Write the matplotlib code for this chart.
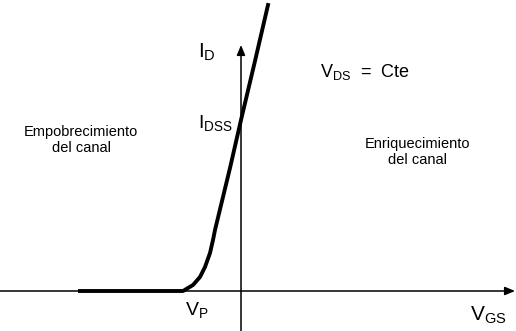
import matplotlib
matplotlib.use("Agg")
from matplotlib import pyplot as plt

plt.rcParams['font.family'] = ['Liberation Sans', 'DejaVu Sans']
plt.rcParams['mathtext.fontset'] = 'custom'
plt.rcParams['mathtext.rm'] = 'Liberation Sans'
plt.rcParams['mathtext.it'] = 'Liberation Sans'

# curva de transferencia I_D(V_GS)
vgs = [-161, -58, -48, -41, -36, -31, -28, -26, -11, 0, 14, 27]
i_d = [0, 0, 6, 14, 24, 38, 51, 61, 123, 171, 230, 286]

fig = plt.figure(figsize=(5.16, 3.31), dpi=100)
ax = fig.add_axes([0, 0, 1, 1])
ax.set_xlim(-241, 275)
ax.set_ylim(-40, 291)
ax.axis('off')

flecha = dict(arrowstyle='-|>,head_length=0.6,head_width=0.25', color='black',
              lw=1.1, shrinkA=0, shrinkB=0)
ax.annotate('', xy=(274, 0), xytext=(-241, 0), arrowprops=flecha)
ax.annotate('', xy=(0, 246), xytext=(0, -40), arrowprops=flecha)

ax.plot(vgs, i_d, color='black', lw=2.8, solid_joinstyle='round')

ax.text(-34, 239, r'$\mathrm{I_D}$', fontsize=15, ha='center', va='center')
ax.text(-26, 168, r'$\mathrm{I_{DSS}}$', fontsize=14, ha='center', va='center')
ax.text(-44, -19, r'$\mathrm{V_P}$', fontsize=14, ha='center', va='center')
ax.text(247, -24, r'$\mathrm{V_{GS}}$', fontsize=15, ha='center', va='center')
ax.text(124, 219, r'$\mathrm{V_{DS}}$  =  Cte', fontsize=13, ha='center', va='center')

ax.text(-160, 151, 'Empobrecimiento\ndel canal', fontsize=10.5, ha='center',
        va='center', linespacing=1.25)
ax.text(177, 139, 'Enriquecimiento\ndel canal', fontsize=10.5, ha='center',
        va='center', linespacing=1.25)

fig.savefig('out.png', dpi=100, facecolor='white')
